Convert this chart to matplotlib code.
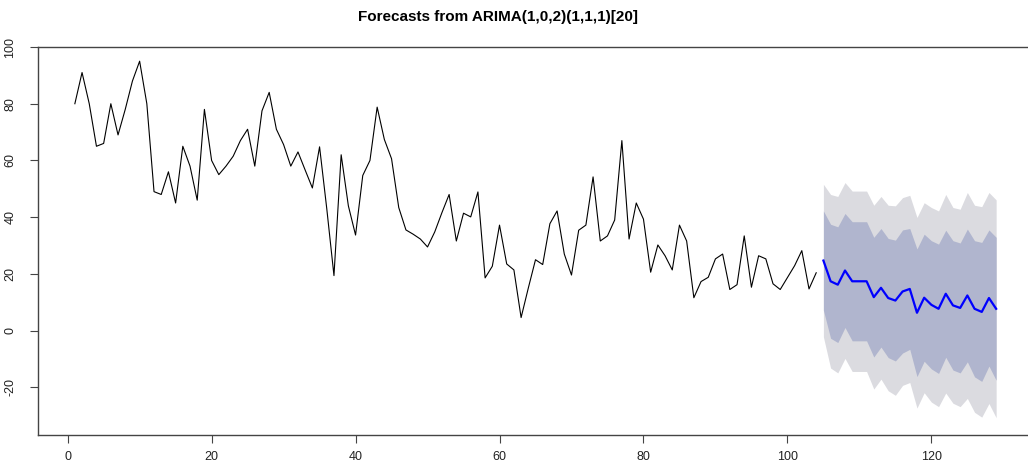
import matplotlib
matplotlib.use("Agg")
import matplotlib.pyplot as plt

# ---------------------------------
# DATA
# ---------------------------------
obs_t = list(range(1, 105))
obs_vals = [
    80, 91, 80, 65, 66, 80, 69, 78, 88, 95,
    80, 49, 48, 56, 45, 65, 58, 46, 78, 60,
    55, 58, 61.5, 67, 71, 58, 77.5, 84, 71, 65.6,
    58, 63, 56.6, 50.3, 64.8, 43, 19.4, 62, 44, 33.7,
    54.7, 60, 78.8, 67.4, 60.6, 43.4, 35.5, 34, 32.3, 29.5,
    34.8, 41.6, 48, 31.6, 41.4, 40.1, 48.9, 18.6, 22.7, 37.2,
    23.5, 21.4, 4.6, 15, 25, 23.3, 37.7, 42.2, 27, 19.6,
    35.4, 37.2, 54.2, 31.6, 33.4, 39, 67, 32.3, 45, 39.3,
    20.6, 30.2, 26.4, 21.4, 37.2, 31.6, 11.6, 17.3, 18.8, 25.3,
    27, 14.5, 16.2, 33.4, 15.3, 26.4, 25.3, 16.5, 14.5, 18.7,
    22.9, 28.2, 14.7, 20.4,
]

fc_t = list(range(105, 130))
fc_mean = [24.7, 17.4, 16.2, 21.2, 17.4, 17.4, 17.4, 11.8, 15.1, 11.5,
           10.6, 13.8, 14.7, 6.3, 11.6, 9.1, 7.7, 13.0, 8.9, 8.0,
           12.4, 7.7, 6.6, 11.5, 7.7]
fc_hi80 = [42.2, 37.5, 36.6, 41.3, 38.4, 38.4, 38.4, 32.9, 36.0, 32.5,
           31.9, 35.5, 36.0, 28.8, 34.0, 31.7, 30.5, 35.4, 31.7, 30.9,
           35.8, 31.7, 31.1, 35.5, 32.9]
fc_lo80 = [7.2, -2.7, -4.2, 1.1, -3.6, -3.6, -3.6, -9.3, -5.8, -9.5,
           -10.7, -7.9, -6.6, -16.2, -10.8, -13.5, -15.1, -9.4, -13.9, -14.9,
           -11.0, -16.3, -17.9, -12.5, -17.5]
fc_hi95 = [51.6, 48.0, 47.3, 52.2, 49.2, 49.2, 49.2, 44.2, 47.3, 44.2,
           44.0, 46.9, 47.7, 39.9, 45.1, 43.4, 42.2, 48.0, 43.4, 42.8,
           48.7, 44.2, 43.7, 48.7, 46.1]
fc_lo95 = [-2.2, -13.2, -14.9, -9.8, -14.4, -14.4, -14.4, -20.6, -17.1, -21.2,
           -22.8, -19.3, -18.3, -27.3, -21.9, -25.2, -26.8, -22.0, -25.6, -26.8,
           -23.9, -28.8, -30.5, -25.7, -30.7]

x_ticks = [0, 20, 40, 60, 80, 100, 120]
y_ticks = [-20, 0, 20, 40, 60, 80, 100]

# ---------------------------------
# PLOT
# ---------------------------------
plt.rcParams["font.family"] = ["Liberation Sans", "DejaVu Sans"]

fig = plt.figure(figsize=(10.28, 4.66), dpi=100)
ax = fig.add_axes([38 / 1028, 1 - 435 / 466, (1033 - 38) / 1028, (435 - 47) / 466])

# prediction intervals, then history and point forecast
ax.fill_between(fc_t, fc_lo95, fc_hi95, color="#DBDBE0", linewidth=0)
ax.fill_between(fc_t, fc_lo80, fc_hi80, color="#B0B5CE", linewidth=0)
ax.plot(obs_t, obs_vals, color="black", linewidth=0.8)
ax.plot(fc_t, fc_mean, color="#0000FF", linewidth=1.6)

ax.set_xlim(-4.12, 134.12)
ax.set_ylim(-36.8, 100)
ax.set_xticks(x_ticks)
ax.set_yticks(y_ticks)
ax.set_yticklabels([str(v) for v in y_ticks], rotation=90, va="center")

for s in ax.spines.values():
    s.set_color("#444444")
    s.set_linewidth(1.0)
ax.tick_params(axis="both", direction="out", length=5.5, width=0.8,
               color="#444444", labelsize=9, labelcolor="#222222")
ax.tick_params(axis="x", pad=6)
ax.tick_params(axis="y", pad=10)

fig.text(498 / 1028, 1 - 17 / 466, "Forecasts from ARIMA(1,0,2)(1,1,1)[20]",
         ha="center", va="center", fontsize=11, fontweight="bold")

fig.savefig("out.png", dpi=100)
